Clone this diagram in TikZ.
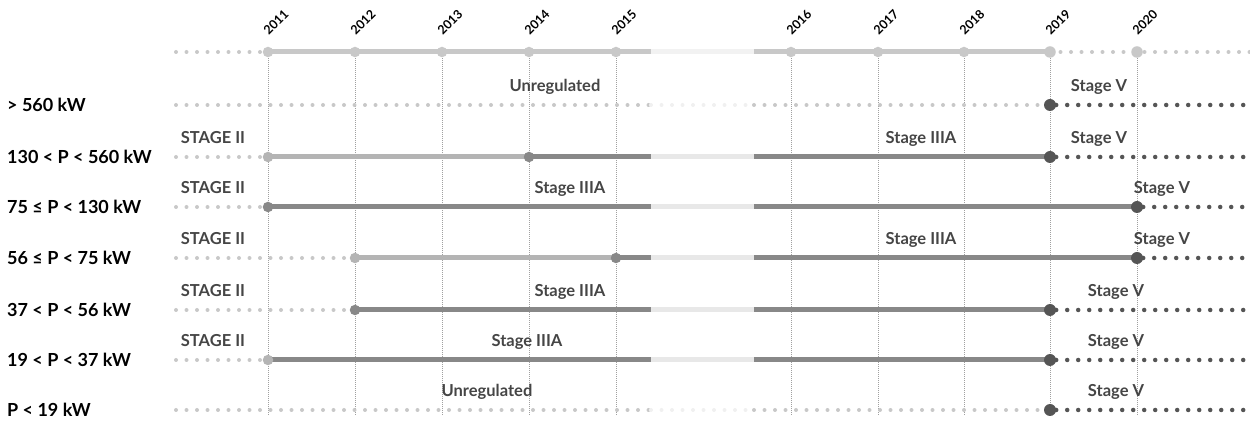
\documentclass[tikz,border=0pt]{standalone}
\usepackage{fontspec}
\setmainfont{Lato}
\definecolor{dotlight}{HTML}{C8C8C8}
\definecolor{dotfade}{HTML}{F0F0F0}
\definecolor{axisline}{HTML}{C8C8C8}
\definecolor{axisfade}{HTML}{F2F2F2}
\definecolor{barlight}{HTML}{B4B4B4}
\definecolor{barmid}{HTML}{888888}
\definecolor{barfade}{HTML}{E8E8E8}
\definecolor{darkdot}{HTML}{555555}
\definecolor{stagetext}{HTML}{454545}
\definecolor{gridline}{HTML}{A0A0A0}
\begin{document}
\begin{tikzpicture}[x=1pt,y=1pt,
  lightdots/.style={draw=dotlight,line width=4pt,line cap=round,dash pattern=on 0pt off 10.5pt},
  fadedots/.style={lightdots,draw=dotfade},
  darkdots/.style={draw=darkdot,line width=4.5pt,line cap=round,dash pattern=on 0pt off 11pt},
  bar/.style={line width=5pt},
  gridrule/.style={draw=gridline,line width=0.7pt,dash pattern=on 1pt off 1pt},
  dotnode/.style={circle,inner sep=0pt,minimum size=10.5pt},
  enddot/.style={dotnode,fill=darkdot,minimum size=12pt},
  powerlabel/.style={anchor=base west,inner sep=0pt,font=\fontsize{18}{18}\selectfont\bfseries},
  stagelabel/.style={anchor=base,inner sep=0pt,text=stagetext,font=\fontsize{16.5}{16.5}\selectfont\bfseries},
  yearlabel/.style={anchor=south west,inner sep=0pt,rotate=45,font=\fontsize{12.5}{12.5}\selectfont\bfseries}]
\useasboundingbox (0,0) rectangle (1250,422);
% coordinates
\foreach \r/\y in {0/370,1/317,2/265,3/215,4/164,5/112,6/62,7/12}{
  \coordinate (r\r-s) at (176,\y);
  \coordinate (r\r-fa) at (651,\y);
  \coordinate (r\r-fb) at (754,\y);
  \coordinate (r\r-e) at (1254,\y);
  \foreach \yr/\x in {2011/268,2012/355,2013/442,2014/529,2015/616,2016/791,2017/878,2018/964,2019/1050,2020/1137}{
    \coordinate (r\r-\yr) at (\x,\y);
  }
}
% vertical grid and years
\foreach \yr/\x in {2011/268,2012/355,2013/442,2014/529,2015/616,2016/791,2017/878,2018/964,2019/1050,2020/1137}{
  \coordinate (g\yr-t) at (\x,364);
  \coordinate (g\yr-b) at (\x,7);
  \draw[gridrule] (g\yr-t) -- (g\yr-b);
  \node[yearlabel] (y\yr) at (\x+1,386) {\yr};
}
% top axis
\draw[lightdots] (r0-s) -- (r0-2011);
\draw[bar,draw=axisline] (r0-2011) -- (r0-fa);
\draw[bar,draw=axisfade] (r0-fa) -- (r0-fb);
\draw[bar,draw=axisline] (r0-fb) -- (r0-2019);
\draw[lightdots] (r0-2019) -- (r0-e);
\foreach \yr in {2011,2012,2013,2014,2015,2016,2017,2018}{
  \node[dotnode,fill=axisline] (a\yr) at (r0-\yr) {};
}
\node[dotnode,fill=axisline,minimum size=11.5pt] (a2019) at (r0-2019) {};
\node[dotnode,fill=axisline,minimum size=11.5pt] (a2020) at (r0-2020) {};
% row 1: > 560 kW
\draw[lightdots] (r1-s) -- (r1-fa);
\draw[fadedots] (r1-fa) -- (r1-fb);
\draw[lightdots] (r1-fb) -- (r1-2019);
\node[enddot] (d1) at (r1-2019) {};
\draw[darkdots] (d1) -- (r1-e);
% row 2: 130 < P < 560
\draw[lightdots] (r2-s) -- (r2-2011);
\draw[bar,draw=barlight] (r2-2011) -- (r2-2014);
\draw[bar,draw=barmid] (r2-2014) -- (r2-fa);
\draw[bar,draw=barfade] (r2-fa) -- (r2-fb);
\draw[bar,draw=barmid] (r2-fb) -- (r2-2019);
\node[dotnode,fill=barlight] (p2a) at (r2-2011) {};
\node[dotnode,fill=barmid] (p2b) at (r2-2014) {};
\node[enddot] (d2) at (r2-2019) {};
\draw[darkdots] (d2) -- (r2-e);
% row 3: 75 <= P < 130
\draw[lightdots] (r3-s) -- (r3-2011);
\draw[bar,draw=barmid] (r3-2011) -- (r3-fa);
\draw[bar,draw=barfade] (r3-fa) -- (r3-fb);
\draw[bar,draw=barmid] (r3-fb) -- (r3-2020);
\node[dotnode,fill=barmid] (p3a) at (r3-2011) {};
\node[enddot] (d3) at (r3-2020) {};
\draw[darkdots] (d3) -- (r3-e);
% row 4: 56 <= P < 75
\draw[lightdots] (r4-s) -- (r4-2012);
\draw[bar,draw=barlight] (r4-2012) -- (r4-2015);
\draw[bar,draw=barmid] (r4-2015) -- (r4-fa);
\draw[bar,draw=barfade] (r4-fa) -- (r4-fb);
\draw[bar,draw=barmid] (r4-fb) -- (r4-2020);
\node[dotnode,fill=barlight] (p4a) at (r4-2012) {};
\node[dotnode,fill=barmid] (p4b) at (r4-2015) {};
\node[enddot] (d4) at (r4-2020) {};
\draw[darkdots] (d4) -- (r4-e);
% row 5: 37 < P < 56
\draw[lightdots] (r5-s) -- (r5-2012);
\draw[bar,draw=barmid] (r5-2012) -- (r5-fa);
\draw[bar,draw=barfade] (r5-fa) -- (r5-fb);
\draw[bar,draw=barmid] (r5-fb) -- (r5-2019);
\node[dotnode,fill=barmid] (p5a) at (r5-2012) {};
\node[enddot] (d5) at (r5-2019) {};
\draw[darkdots] (d5) -- (r5-e);
% row 6: 19 < P < 37
\draw[lightdots] (r6-s) -- (r6-2011);
\draw[bar,draw=barmid] (r6-2011) -- (r6-fa);
\draw[bar,draw=barfade] (r6-fa) -- (r6-fb);
\draw[bar,draw=barmid] (r6-fb) -- (r6-2019);
\node[dotnode,fill=barlight] (p6a) at (r6-2011) {};
\node[enddot] (d6) at (r6-2019) {};
\draw[darkdots] (d6) -- (r6-e);
% row 7: P < 19
\draw[lightdots] (r7-s) -- (r7-fa);
\draw[fadedots] (r7-fa) -- (r7-fb);
\draw[lightdots] (r7-fb) -- (r7-2019);
\node[enddot] (d7) at (r7-2019) {};
\draw[darkdots] (d7) -- (r7-e);
% power labels
\node[powerlabel] (L1) at (7,310.5) {> 560 kW};
\node[powerlabel] (L2) at (7,258.5) {130 < P < 560 kW};
\node[powerlabel] (L3) at (7,208.5) {75 ≤ P < 130 kW};
\node[powerlabel] (L4) at (7,157.5) {56 ≤ P < 75 kW};
\node[powerlabel] (L5) at (7,105.5) {37 < P < 56 kW};
\node[powerlabel] (L6) at (7,55.5) {19 < P < 37 kW};
\node[powerlabel] (L7) at (7,5.5) {P < 19 kW};
% stage labels
\node[stagelabel] (s1a) at (555,330) {Unregulated};
\node[stagelabel] (s1b) at (1099,330) {Stage V};
\node[stagelabel] (s2a) at (213,278) {STAGE II};
\node[stagelabel] (s2b) at (921,278) {Stage IIIA};
\node[stagelabel] (s2c) at (1099,278) {Stage V};
\node[stagelabel] (s3a) at (213,228) {STAGE II};
\node[stagelabel] (s3b) at (570,228) {Stage IIIA};
\node[stagelabel] (s3c) at (1162,228) {Stage V};
\node[stagelabel] (s4a) at (213,177) {STAGE II};
\node[stagelabel] (s4b) at (921,177) {Stage IIIA};
\node[stagelabel] (s4c) at (1162,177) {Stage V};
\node[stagelabel] (s5a) at (213,125) {STAGE II};
\node[stagelabel] (s5b) at (570,125) {Stage IIIA};
\node[stagelabel] (s5c) at (1116,125) {Stage V};
\node[stagelabel] (s6a) at (213,75) {STAGE II};
\node[stagelabel] (s6b) at (527,75) {Stage IIIA};
\node[stagelabel] (s6c) at (1116,75) {Stage V};
\node[stagelabel] (s7a) at (487,25) {Unregulated};
\node[stagelabel] (s7b) at (1116,25) {Stage V};
\end{tikzpicture}
\end{document}
